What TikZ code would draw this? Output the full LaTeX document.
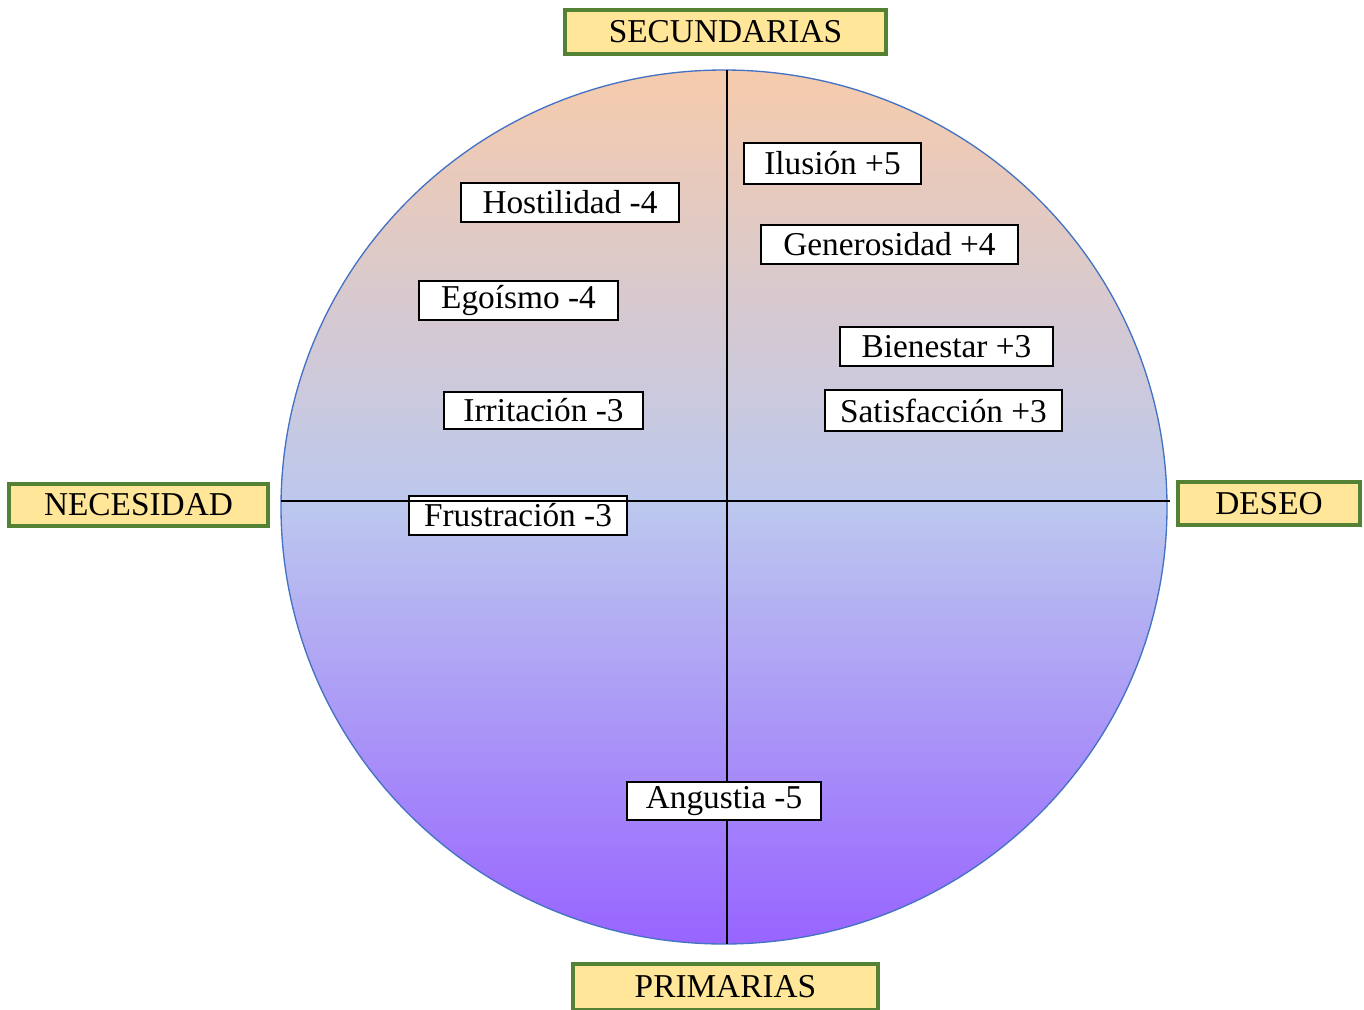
\documentclass[tikz,border=0pt]{standalone}
\usepackage{fontspec}
\setmainfont{Liberation Serif}
\definecolor{peach}{RGB}{246,203,172}
\definecolor{midblue}{RGB}{188,200,238}
\definecolor{violet}{RGB}{152,100,255}
\definecolor{ringblue}{RGB}{68,114,196}
\definecolor{labyellow}{RGB}{255,230,153}
\definecolor{labgreen}{RGB}{84,130,53}
\tikzset{
  axislabel/.style={draw=labgreen, line width=2.4pt, fill=labyellow, inner sep=0pt,
    font=\fontsize{25}{29}\selectfont},
  emobox/.style={draw=black, line width=1.3pt, fill=white, inner sep=0pt,
    font=\fontsize{25}{29}\selectfont},
  axisline/.style={draw=black, line width=1.1pt}
}
\begin{document}
\begin{tikzpicture}[x=0.75pt,y=-0.75pt]
\useasboundingbox (0,0) rectangle (1364,1010);
% circle
\shade[top color=peach, bottom color=violet, middle color=midblue] (724,507) ellipse [x radius=443, y radius=437];
\draw[ringblue, line width=1pt] (724,507) ellipse [x radius=443, y radius=437];
% vertical axis
\coordinate (vtop) at (727,70);
\coordinate (vbot) at (727,944);
\coordinate (hleft) at (281,501);
\coordinate (hright) at (1170,501);
\draw[axisline] (vtop) -- (vbot);
% labels
\node[axislabel, minimum width=321*0.75pt, minimum height=44*0.75pt] (sec) at (725.5,32) {SECUNDARIAS};
\node[axislabel, minimum width=259*0.75pt, minimum height=42*0.75pt] (nec) at (138.5,505) {NECESIDAD};
\node[axislabel, minimum width=182*0.75pt, minimum height=43*0.75pt] (des) at (1269,503.5) {DESEO};
\node[axislabel, minimum width=305*0.75pt, minimum height=46*0.75pt] (pri) at (725.5,987) {PRIMARIAS};
% emotion boxes
\node[emobox, minimum width=177*0.75pt, minimum height=41*0.75pt] (ilu) at (832.5,163.5) {Ilusión +5};
\node[emobox, minimum width=218*0.75pt, minimum height=39*0.75pt] (hos) at (570,202.5) {Hostilidad -4};
\node[emobox, minimum width=257*0.75pt, minimum height=39*0.75pt] (gen) at (889.5,244.5) {Generosidad +4};
\node[emobox, minimum width=199*0.75pt, minimum height=39*0.75pt] (ego) at (518.5,300.5) {Egoísmo -4};
\node[emobox, minimum width=213*0.75pt, minimum height=39*0.75pt] (bie) at (946.5,346.5) {Bienestar +3};
\node[emobox, minimum width=237*0.75pt, minimum height=41*0.75pt] (sat) at (943.5,410.5) {Satisfacción +3};
\node[emobox, minimum width=199*0.75pt, minimum height=37*0.75pt] (irr) at (543.5,410.5) {Irritación -3};
\node[emobox, minimum width=218*0.75pt, minimum height=39*0.75pt] (fru) at (518,515.5) {Frustración -3};
\node[emobox, minimum width=194*0.75pt, minimum height=38*0.75pt] (ang) at (724,801) {Angustia -5};
% horizontal axis (drawn over boxes)
\draw[axisline] (hleft) -- (hright);
\end{tikzpicture}
\end{document}
